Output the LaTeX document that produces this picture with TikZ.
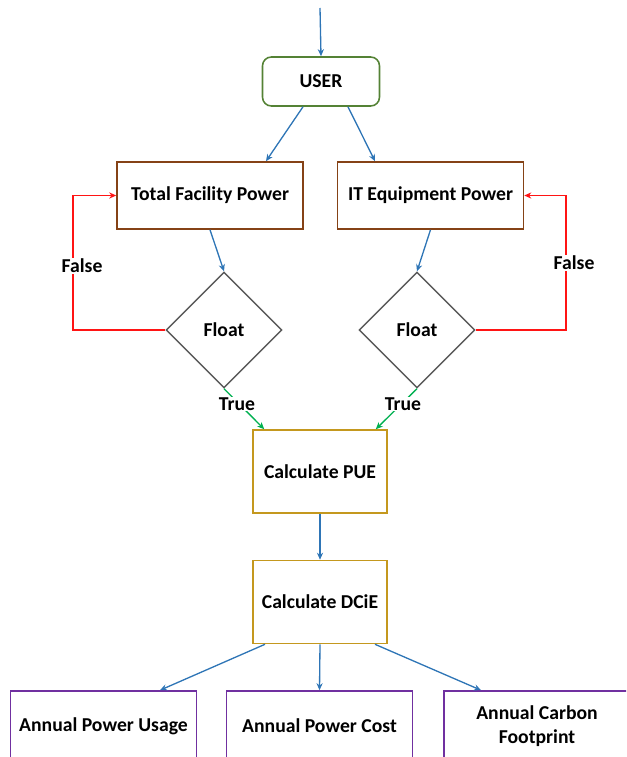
\documentclass[tikz,border=0pt]{standalone}
\usepackage{fontspec}
\setmainfont{Carlito}
\usepackage{xcolor}
\usetikzlibrary{arrows.meta,shapes.geometric}

\definecolor{usergreen}{RGB}{84,130,53}
\definecolor{inbrown}{RGB}{133,66,22}
\definecolor{calcgold}{RGB}{196,152,30}
\definecolor{outpurple}{RGB}{112,48,160}
\definecolor{flowblue}{RGB}{46,117,182}
\definecolor{truegreen}{RGB}{0,176,80}
\definecolor{floatgray}{RGB}{89,89,89}
\definecolor{falsered}{RGB}{255,20,20}

\begin{document}
\begin{tikzpicture}[x=0.02cm,y=-0.02cm,
  every node/.style={font=\bfseries\fontsize{11.2}{13.5}\selectfont},
  userbox/.style={draw=usergreen, line width=0.9pt, rounded corners=5pt, minimum width=2.34cm, minimum height=0.98cm},
  inbox/.style={draw=inbrown, line width=0.9pt, minimum width=3.72cm, minimum height=1.34cm},
  floatbox/.style={draw=floatgray, line width=0.8pt, shape=diamond, aspect=1, inner sep=0pt, minimum width=2.32cm, minimum height=2.32cm},
  calcbox/.style={draw=calcgold, line width=0.9pt, minimum width=2.68cm, minimum height=1.66cm},
  outbox/.style={draw=outpurple, line width=0.9pt, minimum width=3.72cm, minimum height=1.4cm, align=center},
  flow/.style={draw=flowblue, line width=0.75pt, -{Stealth[length=4pt,width=3.5pt]}},
  nopath/.style={draw=falsered, line width=1.1pt, -{Stealth[length=4pt,width=3.5pt]}},
  yespath/.style={draw=truegreen, line width=0.75pt, -{Stealth[length=4pt,width=3.5pt]}},
  lbl/.style={fill=white, inner sep=0.5pt}]

\useasboundingbox (0,0) rectangle (626,757);
\clip (0,0) rectangle (626,757);

\coordinate (start) at (320,8);
\node[userbox] (user) at (321,81.5) {USER};
\node[inbox] (tfp) at (210,195.5) {Total Facility Power};
\node[inbox] (itep) at (430.5,195.5) {IT Equipment Power};
\node[floatbox] (fl1) at (224,330) {Float};
\node[floatbox] (fl2) at (417,330) {Float};
\node[calcbox] (pue) at (320,471.5) {Calculate PUE};
\node[calcbox] (dcie) at (320,602) {Calculate DCiE};
\node[outbox] (apu) at (103.5,726) {Annual Power Usage};
\node[outbox] (apc) at (319.5,726) {Annual Power Cost};
\node[outbox] (acf) at (537,726) {Annual Carbon\\Footprint};

\draw[flow] (start) -- (user.north);
\draw[flow] ([xshift=-0.36cm]user.south) -- ([xshift=1.12cm]tfp.north);
\draw[flow] ([xshift=0.54cm]user.south) -- ([xshift=-1.11cm]itep.north);
\draw[flow] (tfp.south) -- (fl1.north);
\draw[flow] (itep.south) -- (fl2.north);

\draw[nopath] (fl1.west) -- ++(-92,0) |- (tfp.west);
\draw[nopath] (fl2.east) -- ++(90,0) |- (itep.east);

\draw[yespath] (fl1.south) -- ([xshift=0.24cm]pue.north west);
\draw[yespath] (fl2.south) -- ([xshift=-0.24cm]pue.north east);

\draw[flow] (pue.south) -- (dcie.north);
\draw[flow] ([xshift=-1.1cm]dcie.south) -- ([xshift=1.13cm]apu.north);
\draw[flow] (dcie.south) -- (apc.north);
\draw[flow] ([xshift=1.1cm]dcie.south) -- ([xshift=-1.12cm]acf.north);

\node[lbl] (no1) at (82,266) {False};
\node[lbl] (no2) at (574,263) {False};
\node[lbl] (yes1) at (237,404) {True};
\node[lbl] (yes2) at (403,404) {True};

\end{tikzpicture}
\end{document}
